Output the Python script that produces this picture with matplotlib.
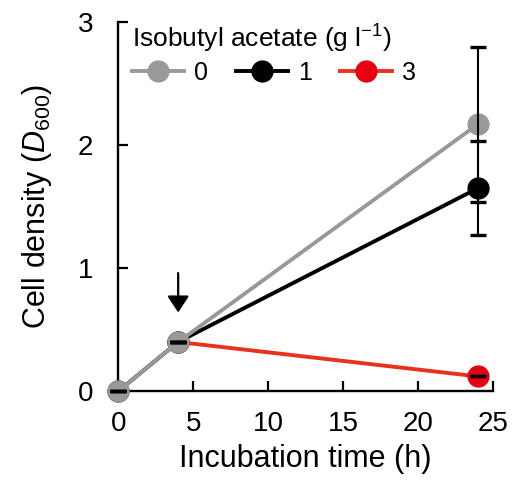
import matplotlib
matplotlib.use("Agg")
import matplotlib.pyplot as plt

plt.rcParams["font.family"] = ["Liberation Sans", "DejaVu Sans"]
plt.rcParams["mathtext.fontset"] = "custom"
plt.rcParams["mathtext.rm"] = "Liberation Sans"
plt.rcParams["mathtext.it"] = "Liberation Sans:italic"

time_h = [0, 4, 24]
conc_labels = ["0", "1", "3"]
density = {
    "0": [0.0, 0.40, 2.17],
    "1": [0.0, 0.40, 1.65],
    "3": [0.0, 0.40, 0.12],
}
err = {
    "0": [0.0, 0.0, 0.63],
    "1": [0.0, 0.0, 0.38],
    "3": [0.0, 0.0, 0.0],
}
colors = {"0": "#999999", "1": "#000000", "3": "#e60012"}
line_colors = {"0": "#999999", "1": "#000000", "3": "#e8321e"}
zorders = {"0": 3, "1": 2, "3": 1}

fig = plt.figure(figsize=(5.14, 4.8), dpi=100)
ax = fig.add_axes([0.23, 0.185, 0.729, 0.769])

for c in conc_labels:
    if c == "3":
        xs, ys, es = time_h[1:], density[c][1:], err[c][1:]
    else:
        xs, ys, es = time_h, density[c], err[c]
    ax.plot(xs, ys, color=line_colors[c], lw=2.8, marker="o", ms=15,
            mfc=colors[c], mec=colors[c], zorder=zorders[c], label=c,
            clip_on=False)
    eb = ax.errorbar(xs, ys, yerr=es, fmt="none", ecolor="black",
                     elinewidth=1.5, capsize=6, capthick=2.4, zorder=5)
    for art in eb.lines[1] + eb.lines[2]:
        art.set_clip_on(False)

ax.annotate("", xy=(4, 0.64), xytext=(4, 0.96),
            arrowprops=dict(arrowstyle="-|>,head_width=0.33,head_length=0.5",
                            color="black", lw=1.6, mutation_scale=20,
                            shrinkA=0, shrinkB=0))

ax.set_xlim(0, 25)
ax.set_ylim(0, 3)
ax.set_xticks([0, 5, 10, 15, 20, 25])
ax.set_yticks([0, 1, 2, 3])
ax.tick_params(direction="in", length=7, width=1.6, labelsize=20)
ax.tick_params(axis="x", pad=14)
ax.tick_params(axis="y", pad=18)
for s in ["top", "right"]:
    ax.spines[s].set_visible(False)
for s in ["left", "bottom"]:
    ax.spines[s].set_linewidth(1.7)

ax.set_xlabel("Incubation time (h)", fontsize=22, labelpad=5)
ax.set_ylabel("Cell density ($\\mathit{D}_{600}$)", fontsize=22, labelpad=17)

leg = ax.legend(title="Isobutyl acetate (g l$^{-1}$)", ncol=3, frameon=False,
                loc="upper left", bbox_to_anchor=(-0.01, 1.045), fontsize=18,
                title_fontsize=19, handlelength=2.1, handletextpad=0.4,
                columnspacing=1.1, borderaxespad=0.3, labelspacing=0.3)
leg._legend_box.align = "left"
leg._legend_box.sep = 4

fig.savefig("out.png", dpi=100)
